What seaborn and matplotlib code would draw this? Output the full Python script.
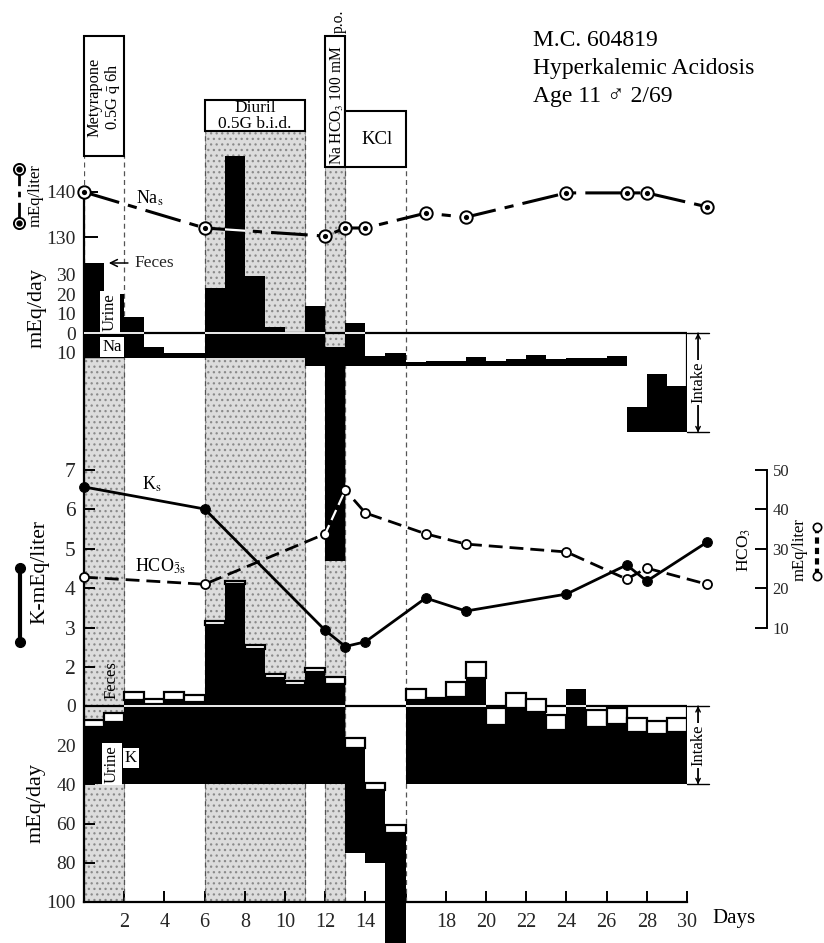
import numpy as np
import matplotlib
matplotlib.use('Agg')
import matplotlib.pyplot as plt
import seaborn as sns
from matplotlib.patches import Rectangle
from matplotlib.lines import Line2D

# serum values (mEq/liter) on sampling days
serum_days = [0, 6, 12, 13, 14, 17, 19, 24, 27, 28, 31]
na_serum = [140, 132, 130.2, 132, 132, 135.3, 134.4, 139.8, 139.8, 139.8, 136.7]
k_serum = [6.57, 6.01, 2.93, 2.52, 2.64, 3.75, 3.42, 3.85, 4.59, 4.18, 5.17]
hco3_serum = [22.8, 21, 33.8, 44.9, 39.1, 33.8, 31.2, 29.2, 22.3, 25.1, 21]

# daily balance (mEq/day), one bar per day, left edge = day
bal_days = list(range(30))
na_intake = [13, 13, 13, 13, 13, 13, 13, 13, 13, 13, 13, 17, 117, 17, 17,
             17, 17, 17, 17, 17, 17, 17, 17, 17, 17, 17, 17, 51, 51, 51]
na_output = [49, 33, 21, 6, 3, 3, 36, 104, 42, 16, 13.5, 31, 110, 22, 5,
             7, 2, 2.5, 2.5, 4.5, 2.5, 3.5, 5.5, 3.5, 4, 4, 5, 13, 30, 24]
k_intake = [40, 40, 40, 40, 40, 40, 40, 40, 40, 40, 40, 40, 40, 75, 80,
            130, 40, 40, 40, 40, 40, 40, 40, 40, 40, 40, 40, 40, 40, 40]
k_urine = [29.5, 32, 43, 41, 43, 42, 81.5, 102.5, 69, 54.5, 50.5, 57.5, 51, 53.5, 37,
           65, 43, 43.5, 44.5, 54.5, 30.5, 39, 37, 28, 48.5, 29.5, 31, 26.5, 25.5, 26.5]
k_feces = [3.5, 4.5, 4, 2.5, 4, 3.5, 2, 1.5, 2, 2, 2.5, 2, 4, 5, 3.5,
           4.5, 5.5, 0.5, 7.5, 8, 8.5, 7.5, 6.5, 7.5, 0, 8.5, 8, 7.5, 7, 7.5]

# treatment periods (days)
stipple_periods = [(0, 2), (6, 11), (12, 13)]

sns.set_theme(style='white')
plt.rcParams['font.family'] = ['Liberation Serif', 'DejaVu Serif']
plt.rcParams['mathtext.fontset'] = 'stix'
plt.rcParams['hatch.linewidth'] = 0.9

W, H = 824, 943
X0, X1 = 84, 687
fig = plt.figure(figsize=(W / 100, H / 100), dpi=100)
fig.patch.set_facecolor('white')


def fx(px):
    return px / W


def fy(py):
    return 1 - py / H


def lims(y0, v0, scale):
    # value v0 sits at pixel row y0, scale pixels per unit
    return (v0 - (H - y0) / scale, v0 + y0 / scale)


def overlay(label):
    ax = fig.add_axes([X0 / W, 0, (X1 - X0) / W, 1], label=label)
    ax.set_xlim(0, 30)
    ax.patch.set_visible(False)
    for s in ax.spines.values():
        s.set_visible(False)
    ax.tick_params(left=False, bottom=False, labelleft=False, labelbottom=False)
    ax.set_xticks([])
    ax.set_yticks([])
    return ax


absfmt = lambda vals: [str(abs(int(v))) for v in vals]

# ---- K balance (also carries background, boxes, axes frame)
ax_kb = overlay('kbal')
ax_kb.set_ylim(*lims(706, 0, 1.96))
bt = ax_kb.get_xaxis_transform()

for (a, b), top in zip(stipple_periods, [358, 131, 167]):
    ax_kb.axvspan(a, b, ymin=fy(902), ymax=fy(top), facecolor='#dcdcdc',
                  hatch='...', edgecolor='#8a8a8a', lw=0.5, zorder=0)
for d, top in [(0, 156), (2, 156), (6, 131), (11, 131), (12, 167), (13, 167), (16, 167)]:
    ax_kb.axvline(d, ymin=fy(902), ymax=fy(top), color='#555555', lw=0.9,
                  ls=(0, (4, 3)), zorder=1)

for (a, b), (top, bot) in zip([(0, 2), (6, 11), (12, 13), (13, 16)],
                              [(36, 156), (100, 131), (36, 167), (111, 167)]):
    ax_kb.add_patch(Rectangle((a, fy(bot)), b - a, fy(top) - fy(bot), transform=bt,
                              facecolor='white', edgecolor='black', lw=1.5, zorder=6,
                              clip_on=False))

k_bottom = -np.array(k_intake, dtype=float)
k_top = k_bottom + np.array(k_urine)
ax_kb.hlines(0, 0, 30, color='black', lw=1.6, zorder=2)
ax_kb.vlines(30, -k_intake[-1], 0, color='black', lw=1.6, zorder=2)
ax_kb.bar(bal_days, k_urine, bottom=k_bottom, width=1, align='edge',
          color='black', lw=0, zorder=3)
fd = [d for d, f in zip(bal_days, k_feces) if f > 0]
ax_kb.bar(fd, [k_feces[d] for d in fd], bottom=[k_top[d] for d in fd], width=1,
          align='edge', facecolor='white', edgecolor='black', lw=1.6, zorder=4)
for d in bal_days:
    if k_top[d] > 0:
        ax_kb.hlines(0, d, d + 1, color='white', lw=1.3, zorder=5)

ax_kb.spines['left'].set_visible(True)
ax_kb.spines['left'].set_bounds(-100, (706 - 192) / 1.96)
ax_kb.spines['bottom'].set_visible(True)
ax_kb.spines['bottom'].set_position(('data', -100))
ax_kb.spines['bottom'].set_bounds(0, 30)
for s in ['left', 'bottom']:
    ax_kb.spines[s].set_color('black')
    ax_kb.spines[s].set_linewidth(1.6)
    ax_kb.spines[s].set_zorder(7)
xt = list(range(2, 31, 2))
ax_kb.set_xticks(xt)
ax_kb.set_xticklabels(['' if t == 16 else str(t) for t in xt])
kt = [0, -20, -40, -60, -80, -100]
ax_kb.set_yticks(kt)
ax_kb.set_yticklabels(absfmt(kt))
ax_kb.tick_params(axis='x', bottom=True, labelbottom=True, direction='in',
                  length=8, width=1.4, labelsize=14.5, pad=8, color='black')
ax_kb.tick_params(axis='y', left=True, labelleft=True, direction='in',
                  length=8, width=1.4, labelsize=14, pad=6, color='black')

# ---- Na balance
ax_nb = overlay('nabal')
ax_nb.set_ylim(*lims(333, 0, 1.95))
na_bottom = -np.array(na_intake, dtype=float)
na_top = na_bottom + np.array(na_output)
ax_nb.hlines(0, 0, 30, color='black', lw=1.6, zorder=2)
ax_nb.vlines(30, -na_intake[-1], 0, color='black', lw=1.6, zorder=2)
na_bars = ax_nb.bar(bal_days, na_output, bottom=na_bottom, width=1, align='edge',
                    color='black', lw=0, zorder=3)
for d in bal_days:
    if na_top[d] > 0:
        ax_nb.hlines(0, d, d + 1, color='white', lw=1.3, zorder=5)
nt = [30, 20, 10, 0, -10]
ax_nb.set_yticks(nt)
ax_nb.set_yticklabels(absfmt(nt))
ax_nb.tick_params(axis='y', left=True, labelleft=True, direction='in',
                  length=8, width=1.4, labelsize=14, pad=6, color='black')

# ---- Na serum
ax_ns = overlay('naserum')
ax_ns.set_ylim(*lims(192, 140, 4.5))
sns.lineplot(x=serum_days, y=na_serum, ax=ax_ns, color='black', lw=2.2,
             linestyle=(0, (12, 3, 3, 3)), clip_on=False, zorder=6)
sns.scatterplot(x=serum_days, y=na_serum, ax=ax_ns, s=80, color='white',
                edgecolor='black', linewidth=1.4, clip_on=False, zorder=7)
sns.scatterplot(x=serum_days, y=na_serum, ax=ax_ns, s=14, color='black',
                linewidth=0, clip_on=False, zorder=8)
ax_ns.set_yticks([130, 140])
ax_ns.tick_params(axis='y', left=True, labelleft=True, direction='in',
                  length=10, width=1.4, labelsize=14, pad=6, color='black')

# ---- K serum and HCO3
ax_ks = overlay('kserum')
kl = lims(470, 7, 39.4)
ax_ks.set_ylim(*kl)
sns.lineplot(x=serum_days, y=k_serum, ax=ax_ks, color='black', lw=2,
             marker='o', markersize=7, markerfacecolor='black',
             markeredgecolor='black', clip_on=False, zorder=6)
ax_ks.set_yticks([2, 3, 4, 5, 6, 7])
ax_ks.tick_params(axis='y', left=True, labelleft=True, direction='in',
                  length=8, width=1.4, labelsize=15.5, pad=6, color='black')

ax_hc = overlay('hco3')
ax_hc.set_ylim(10 * kl[0] - 20, 10 * kl[1] - 20)
sns.lineplot(x=serum_days, y=hco3_serum, ax=ax_hc, color='black', lw=2,
             linestyle=(0, (5, 2.5)), marker='o', markersize=6.5,
             markerfacecolor='white', markeredgecolor='black', markeredgewidth=1.3,
             clip_on=False, zorder=6)
ax_hc.spines['right'].set_visible(True)
ax_hc.spines['right'].set_position(('axes', (767 - X0) / (X1 - X0)))
ax_hc.spines['right'].set_bounds(10, 50)
ax_hc.spines['right'].set_color('black')
ax_hc.spines['right'].set_linewidth(1.4)
ax_hc.yaxis.set_ticks_position('right')
ax_hc.set_yticks([10, 20, 30, 40, 50])
ax_hc.tick_params(axis='y', right=True, labelright=True, left=False, labelleft=False,
                  direction='in', length=9, width=1.4, labelsize=12, pad=4, color='black')

# serum lines show white where they run across a black Na bar
for bar in na_bars:
    for ax, vals, ls in [(ax_ns, na_serum, (0, (12, 3, 3, 3))), (ax_hc, hco3_serum, (0, (5, 2.5)))]:
        ln, = ax.plot(serum_days, vals, color='white', lw=1.6, ls=ls, zorder=7)
        ln.set_clip_path(bar)

# ---- text
tk = dict(color='black')
for i, line in enumerate(['M.C. 604819', 'Hyperkalemic Acidosis', 'Age 11 \u2642 2/69']):
    fig.text(fx(533), fy(46 + 28 * i), line, fontsize=17, va='baseline', **tk)

fig.text(fx(104), fy(97), 'Metyrapone\n0.5G $\\bar{\\mathrm{q}}$ 6h', rotation=90,
         ha='center', va='center', multialignment='center', fontsize=11.8,
         linespacing=1.0, zorder=9, **tk)
fig.text(fx(255), fy(116), 'Diuril\n0.5G b.i.d.', ha='center', va='center',
         multialignment='center', fontsize=12.5, linespacing=0.95, **tk)
fig.text(fx(337), fy(165), 'Na HCO$_3$ 100 mM', rotation=90, rotation_mode='anchor',
         ha='left', va='center', fontsize=11.2, zorder=9, **tk)
fig.text(fx(339), fy(33), 'p.o.', rotation=90, rotation_mode='anchor',
         ha='left', va='center', fontsize=11.2, zorder=9, **tk)
fig.text(fx(377), fy(140), 'KCl', ha='center', va='center', fontsize=13.5, **tk)

fig.text(fx(150), fy(198), 'Na$_\\mathrm{s}$', ha='center', va='center', fontsize=13, **tk)
fig.text(fx(152), fy(484), 'K$_\\mathrm{s}$', ha='center', va='center', fontsize=13, **tk)
fig.text(fx(160), fy(566), 'HCO$_{\\bar{3}\\mathrm{s}}$', ha='center', va='center',
         fontsize=13, **tk)
fig.text(fx(712), fy(918), 'Days', ha='left', va='center', fontsize=15, **tk)

ax_nb.annotate('Feces', xy=(fx(106), fy(263)), xytext=(fx(134), fy(263)),
               xycoords='figure fraction', textcoords='figure fraction',
               ha='left', va='center', fontsize=12.5,
               arrowprops=dict(arrowstyle='->', color='black', lw=1.1))
wb = dict(boxstyle='square,pad=0.12', facecolor='white', edgecolor='none')
fig.text(fx(110), fy(312), 'Urine', rotation=90, ha='center', va='center',
         fontsize=12, bbox=wb, zorder=9, **tk)
fig.text(fx(112), fy(347), 'Na', ha='center', va='center', fontsize=12, bbox=wb, **tk)
fig.text(fx(112), fy(680), 'Feces', rotation=90, ha='center', va='center', fontsize=12, **tk)
fig.text(fx(112), fy(764), 'Urine', rotation=90, ha='center', va='center',
         fontsize=12, bbox=wb, **tk)
fig.text(fx(131), fy(758), 'K', ha='center', va='center', fontsize=12, bbox=wb, **tk)

# left / right axis titles
fig.text(fx(36), fy(196), 'mEq/liter', rotation=90, ha='center', va='center', fontsize=12, **tk)
fig.text(fx(37), fy(308), 'mEq/day', rotation=90, ha='center', va='center', fontsize=16, **tk)
fig.text(fx(40), fy(572), 'K-mEq/liter', rotation=90, ha='center', va='center', fontsize=15.5, **tk)
fig.text(fx(36), fy(803), 'mEq/day', rotation=90, ha='center', va='center', fontsize=16, **tk)
fig.text(fx(744), fy(550), 'HCO$_3$', rotation=90, ha='center', va='center', fontsize=12.5, **tk)
fig.text(fx(800), fy(550), 'mEq/liter', rotation=90, ha='center', va='center', fontsize=12, **tk)

# legend glyphs
fig.add_artist(Line2D([fx(19)] * 2, [fy(169), fy(223)], color='black', lw=2,
                      ls=(0, (6, 2, 2, 2))))
fig.add_artist(Line2D([fx(19)] * 2, [fy(169), fy(223)], ls='none', marker='o', ms=8,
                      mfc='white', mec='black', mew=1.4))
fig.add_artist(Line2D([fx(19)] * 2, [fy(169), fy(223)], ls='none', marker='o', ms=3.5,
                      mfc='black', mec='black'))
fig.add_artist(Line2D([fx(20)] * 2, [fy(568), fy(642)], color='black', lw=3,
                      marker='o', ms=7, mfc='black', mec='black'))
fig.add_artist(Line2D([fx(817)] * 2, [fy(527), fy(576)], color='black', lw=3,
                      ls=(0, (1.5, 1))))
fig.add_artist(Line2D([fx(817)] * 2, [fy(527), fy(576)], ls='none', marker='o', ms=6,
                      mfc='white', mec='black', mew=1.2))

# intake brackets
for ax, top in [(ax_nb, na_intake[-1]), (ax_kb, k_intake[-1])]:
    for st in ['<->', '|-|']:
        ax.annotate('', xy=(30.55, 0), xytext=(30.55, -top), xycoords='data',
                    arrowprops=dict(arrowstyle=st, color='black', lw=1.0,
                                    shrinkA=0, shrinkB=0, mutation_scale=8),
                    annotation_clip=False)
    ax.text(30.55, -top / 2, 'Intake', rotation=90, ha='center', va='center',
            fontsize=12, bbox=dict(boxstyle='square,pad=0.1', facecolor='white',
                                   edgecolor='none'), clip_on=False, **tk)

fig.savefig('out.png', dpi=100, facecolor='white')
